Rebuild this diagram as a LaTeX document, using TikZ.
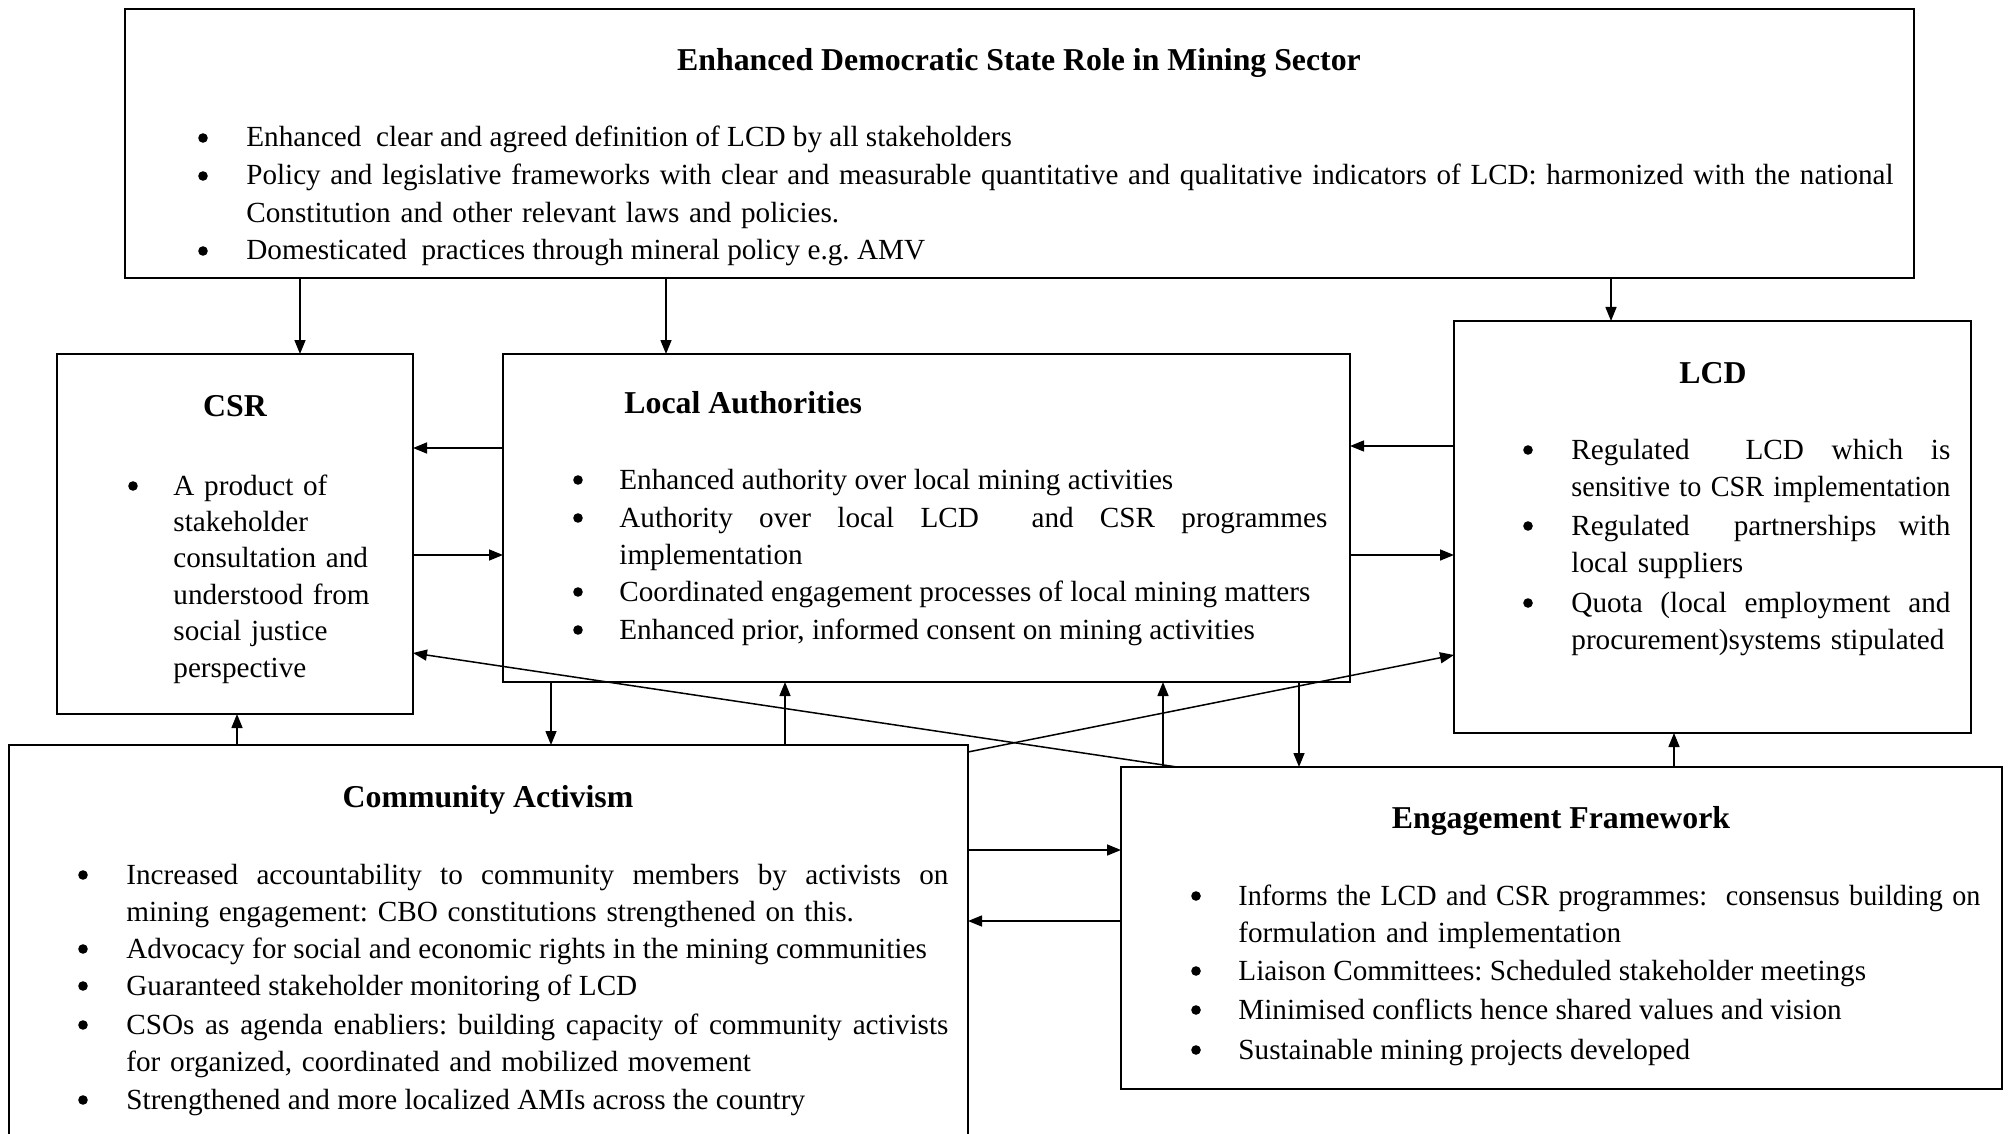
\documentclass[tikz,border=0pt]{standalone}
\usepackage{fontspec}
\usepackage{graphicx}
\setmainfont{Liberation Serif}
\usetikzlibrary{arrows.meta}
\frenchspacing
\newlength\fltmp
\newcommand\jl[2]{\settowidth\fltmp{#2}\ifdim\fltmp>#1\relax\resizebox{#1}{\height}{#2}\else\hbox to #1{\spaceskip=\fontdimen2\font plus 1fil\relax #2}\fi}
\begin{document}
\begin{tikzpicture}[x=0.5pt,y=-0.5pt,
  box/.style={draw, line width=1pt, inner sep=0pt, outer sep=0pt, anchor=north west},
  ttl/.style={font=\fontsize{15.9}{19}\selectfont\bfseries\frenchspacing, inner sep=0pt, anchor=base},
  itm/.style={font=\fontsize{14.6}{18.75}\selectfont\frenchspacing, inner sep=0pt, anchor=base west, align=left},
  bul/.style={circle, fill, inner sep=0pt, minimum size=4.8pt},
  arr/.style={-{Triangle[length=7pt,width=5.5pt]}, line width=0.75pt}]
\useasboundingbox (0,0) rectangle (2008,1134);
\fill[white] (0,0) rectangle (2008,1134);

% ---------- boxes ----------
\node[box, minimum width=894.5pt, minimum height=134.5pt] (top) at (125,9) {};
\node[box, minimum width=178pt, minimum height=180pt] (csr) at (57,354) {};
\node[box, minimum width=423.5pt, minimum height=164pt] (la) at (503,354) {};
\node[box, minimum width=258.5pt, minimum height=206pt] (lcd) at (1454,321) {};
\node[box, minimum width=479.5pt, minimum height=197.5pt] (ca) at (9,745) {};
\node[box, minimum width=440.5pt, minimum height=161pt] (ef) at (1121,767) {};

% ---------- top box text ----------
\node[ttl] (toptitle) at (1019,71) {Enhanced Democratic State Role in Mining Sector};
\node[bul] (tb1) at (203,138) {};
\node[itm] (ti1) at (246,147) {Enhanced\ \ clear and agreed definition of LCD by all stakeholders};
\node[bul] (tb2) at (203,176) {};
\node[itm, text width=824pt] (ti2) at (246,185) {\jl{823.5pt}{Policy and legislative frameworks with clear and measurable quantitative and qualitative indicators of LCD: harmonized with the national}\\ Constitution and other relevant laws and policies.};
\node[bul] (tb3) at (203,251) {};
\node[itm] (ti3) at (246,260) {Domesticated\ \ practices through mineral policy e.g. AMV};

% ---------- CSR ----------
\node[ttl] (csrtitle) at (235,416) {CSR};
\node[bul] (cb1) at (133,486) {};
\node[itm, text width=120pt, font=\fontsize{14.6}{18.2}\selectfont] (ci1) at (173,495) {A product of\\ stakeholder\\ consultation and\\ understood from\\ social justice\\ perspective};

% ---------- Local Authorities ----------
\node[ttl, anchor=base west] (latitle) at (624,413) {Local Authorities};
\node[bul] (lb1) at (578,480) {};
\node[itm] (li1) at (619,489) {Enhanced authority over local mining activities};
\node[bul] (lb2) at (578,518) {};
\node[itm, text width=354pt] (li2) at (619,527) {\jl{354pt}{Authority over local LCD\ \ and CSR programmes}\\ implementation};
\node[bul] (lb3) at (578,592) {};
\node[itm] (li3) at (619,601) {Coordinated engagement processes of local mining matters};
\node[bul] (lb4) at (578,630) {};
\node[itm] (li4) at (619,639) {Enhanced prior, informed consent on mining activities};

% ---------- LCD ----------
\node[ttl] (lcdtitle) at (1713,383) {LCD};
\node[bul] (db1) at (1528,450) {};
\node[itm, text width=189.5pt] (di1) at (1571,459) {\jl{189.5pt}{Regulated\ \ LCD which is}\\ \jl{189.5pt}{sensitive to CSR implementation}};
\node[bul] (db2) at (1528,526) {};
\node[itm, text width=189.5pt] (di2) at (1571,535) {\jl{189.5pt}{Regulated\ \ partnerships with}\\ local suppliers};
\node[bul] (db3) at (1528,603) {};
\node[itm, text width=189.5pt] (di3) at (1571,612) {\jl{189.5pt}{Quota (local employment and}\\ procurement)systems stipulated};

% ---------- Community Activism ----------
\node[ttl] (catitle) at (488,807) {Community Activism};
\node[bul] (ab1) at (83,875) {};
\node[itm, text width=411pt] (ai1) at (126,884) {\jl{411pt}{Increased accountability to community members by activists on}\\ mining engagement: CBO constitutions strengthened on this.};
\node[bul] (ab2) at (83,949) {};
\node[itm] (ai2) at (126,958) {Advocacy for social and economic rights in the mining communities};
\node[bul] (ab3) at (83,986) {};
\node[itm] (ai3) at (126,995) {Guaranteed stakeholder monitoring of LCD};
\node[bul] (ab4) at (83,1025) {};
\node[itm, text width=411pt] (ai4) at (126,1034) {\jl{411pt}{CSOs as agenda enabliers: building capacity of community activists}\\ for organized, coordinated and mobilized movement};
\node[bul] (ab5) at (83,1100) {};
\node[itm] (ai5) at (126,1109) {Strengthened and more localized AMIs across the country};

% ---------- Engagement Framework ----------
\node[ttl] (eftitle) at (1561,828) {Engagement Framework};
\node[bul] (eb1) at (1196,896) {};
\node[itm, text width=371pt] (ei1) at (1238,905) {\jl{371pt}{Informs the LCD and CSR programmes:\ \ consensus building on}\\ formulation and implementation};
\node[bul] (eb2) at (1196,971) {};
\node[itm] (ei2) at (1238,980) {Liaison Committees: Scheduled stakeholder meetings};
\node[bul] (eb3) at (1196,1010) {};
\node[itm] (ei3) at (1238,1019) {Minimised conflicts hence shared values and vision};
\node[bul] (eb4) at (1196,1050) {};
\node[itm] (ei4) at (1238,1059) {Sustainable mining projects developed};

% ---------- helper coordinates ----------
\coordinate (x237) at (237,0);
\coordinate (x300) at (300,0);
\coordinate (x551) at (551,0);
\coordinate (x666) at (666,0);
\coordinate (x785) at (785,0);
\coordinate (x1163) at (1163,0);
\coordinate (x1177) at (1177,0);
\coordinate (x1299) at (1299,0);
\coordinate (x1611) at (1611,0);
\coordinate (x1674) at (1674,0);
\coordinate (y446) at (0,446);
\coordinate (y448) at (0,448);
\coordinate (y555) at (0,555);
\coordinate (y653) at (0,653);
\coordinate (y655) at (0,655);
\coordinate (y752) at (0,752);
\coordinate (y850) at (0,850);
\coordinate (y921) at (0,921);

% ---------- connectors ----------
\draw[arr] (top.south -| x300) -- (csr.north -| x300);
\draw[arr] (top.south -| x666) -- (la.north -| x666);
\draw[arr] (top.south -| x1611) -- (lcd.north -| x1611);
\draw[arr] (la.west |- y448) -- (csr.east |- y448);
\draw[arr] (csr.east |- y555) -- (la.west |- y555);
\draw[arr] (lcd.west |- y446) -- (la.east |- y446);
\draw[arr] (la.east |- y555) -- (lcd.west |- y555);
\draw[arr] (ca.north -| x237) -- (csr.south -| x237);
\draw[arr] (la.south -| x551) -- (ca.north -| x551);
\draw[arr] (ca.north -| x785) -- (la.south -| x785);
\draw[arr] (ef.north -| x1163) -- (la.south -| x1163);
\draw[arr] (la.south -| x1299) -- (ef.north -| x1299);
\draw[arr] (ef.north -| x1674) -- (lcd.south -| x1674);
\draw[arr] (ca.east |- y850) -- (ef.west |- y850);
\draw[arr] (ef.west |- y921) -- (ca.east |- y921);
\draw[arr] (ef.north -| x1177) -- (csr.east |- y653);
\draw[arr] (ca.east |- y752) -- (lcd.west |- y655);
\end{tikzpicture}
\end{document}
